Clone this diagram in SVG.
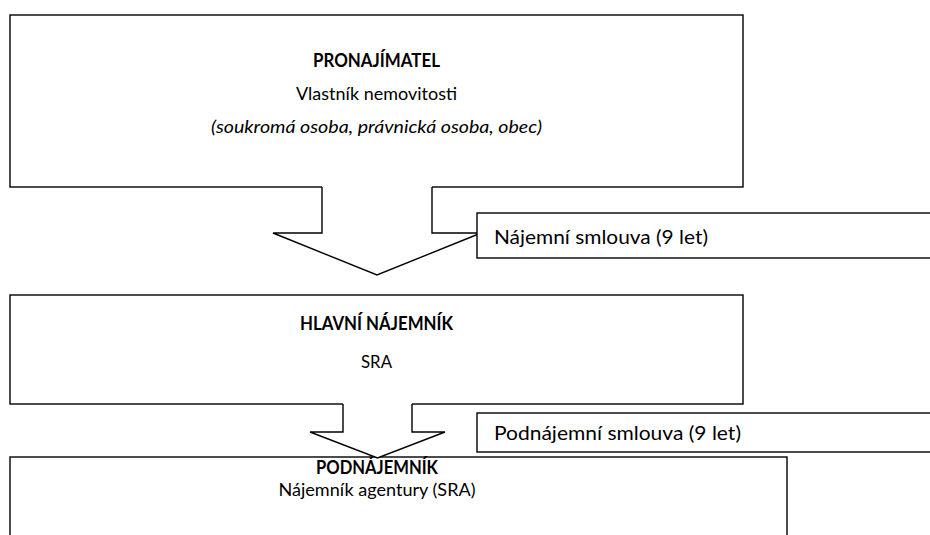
<svg xmlns="http://www.w3.org/2000/svg" width="930" height="535" viewBox="0 0 930 535">
  <style>
    .box { fill: #ffffff; stroke: #000000; stroke-width: 1.4; }
    .afill { fill: #ffffff; stroke: none; }
    .aline { fill: none; stroke: #000000; stroke-width: 1.4; stroke-linejoin: miter; }
    text { font-family: Lato, "Open Sans", "Liberation Sans", sans-serif; fill: #000000; }
    .c { text-anchor: middle; font-size: 18px; }
    .b { font-weight: bold; }
    .i { font-style: italic; }
    .lbl { font-size: 20px; }
  </style>
  <rect width="930" height="535" fill="#ffffff"/>

  <g id="pronajimatel">
    <rect class="box" x="10" y="15" width="733" height="172"/>
    <text class="c b" x="376.5" y="67" textLength="127" lengthAdjust="spacingAndGlyphs">PRONAJÍMATEL</text>
    <text class="c" x="376.5" y="100" textLength="161" lengthAdjust="spacingAndGlyphs">Vlastník nemovitosti</text>
    <text class="c i" x="376.5" y="133" textLength="331" lengthAdjust="spacingAndGlyphs">(soukromá osoba, právnická osoba, obec)</text>
  </g>

  <g id="hlavni-najemnik">
    <rect class="box" x="10" y="295" width="733" height="109"/>
    <text class="c b" x="376.5" y="330" textLength="153" lengthAdjust="spacingAndGlyphs">HLAVNÍ NÁJEMNÍK</text>
    <text class="c" x="376.5" y="368" textLength="31" lengthAdjust="spacingAndGlyphs">SRA</text>
  </g>

  <g id="podnajemnik-box">
    <rect class="box" x="10" y="457" width="777" height="90"/>
  </g>

  <g id="connectors">
    <g id="arrow1">
      <polygon class="afill" points="322,185 432,185 432,233 481,233 377,275 273,233 322,233"/>
      <polyline class="aline" points="432,187 432,233 481,233 377,275 273,233 322,233 322,187"/>
    </g>
    <g id="arrow2">
      <polygon class="afill" points="343,402 412,402 412,432 445,432 377.5,458 310,432 343,432"/>
      <polyline class="aline" points="412,404 412,432 445,432 377.5,458 310,432 343,432 343,404"/>
    </g>
  </g>

  <g id="podnajemnik">
    <text class="c b" x="377" y="474" textLength="122" lengthAdjust="spacingAndGlyphs">PODNÁJEMNÍK</text>
    <text class="c" x="377" y="496" textLength="197" lengthAdjust="spacingAndGlyphs">Nájemník agentury (SRA)</text>
  </g>

  <g id="label-najemni">
    <rect class="box" x="477" y="213" width="460" height="45"/>
    <text class="lbl" x="494" y="244" textLength="214" lengthAdjust="spacingAndGlyphs">Nájemní smlouva (9 let)</text>
  </g>

  <g id="label-podnajemni">
    <rect class="box" x="477" y="413" width="460" height="39"/>
    <text class="lbl" x="494" y="440" textLength="247" lengthAdjust="spacingAndGlyphs">Podnájemní smlouva (9 let)</text>
  </g>
</svg>
